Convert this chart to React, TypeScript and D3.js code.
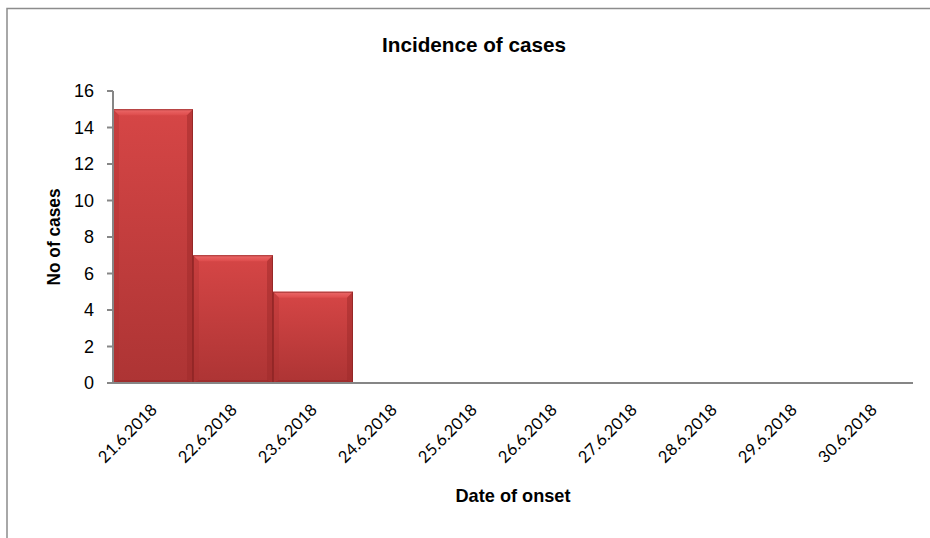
import React from "react";
import * as d3 from "d3";

const categories = ["21.6.2018", "22.6.2018", "23.6.2018", "24.6.2018", "25.6.2018", "26.6.2018", "27.6.2018", "28.6.2018", "29.6.2018", "30.6.2018"];
const cases = [15, 7, 5, 0, 0, 0, 0, 0, 0, 0];
const yTicks = [0, 2, 4, 6, 8, 10, 12, 14, 16];
const title = "Incidence of cases";
const yTitle = "No of cases";
const xTitle = "Date of onset";

const W = 930, H = 538;
const left = 113, right = 913, top = 91, bottom = 383;

export default function App() {
  const x = d3.scaleBand<string>().domain(categories).range([left, right]).padding(0);
  const y = d3.scaleLinear().domain([0, 16]).range([bottom, top]);
  const bev = 6;
  const sans = "'Liberation Sans', Arial, sans-serif";
  return (
    <svg width={W} height={H} style={{ position: "absolute", left: 0, top: 0, background: "#fff" }}>
      <defs>
        <linearGradient id="body" x1="0" y1="0" x2="0" y2="1">
          <stop offset="0" stopColor="#d64646" />
          <stop offset="1" stopColor="#ad3434" />
        </linearGradient>
        <linearGradient id="topb" x1="0" y1="0" x2="0" y2="1">
          <stop offset="0" stopColor="#ec6a6a" />
          <stop offset="1" stopColor="#de4c4c" />
        </linearGradient>
      </defs>
      <rect x={7} y={8.5} width={940} height={560} fill="none" stroke="#8c8c8c" strokeWidth={1.5} />
      <text x={474} y={52} textAnchor="middle" fontFamily={sans} fontWeight="bold" fontSize={21} textLength={184} lengthAdjust="spacingAndGlyphs" fill="#000">{title}</text>
      {cases.map((v, i) => {
        if (v <= 0) return null;
        const x0 = x(categories[i])!;
        const x1 = x0 + x.bandwidth();
        const y0 = y(v);
        const y1 = y(0);
        return (
          <g key={i}>
            <rect x={x0} y={y0} width={x1 - x0} height={y1 - y0} fill="url(#body)" />
            <polygon points={`${x0},${y0} ${x1},${y0} ${x1 - bev},${y0 + bev} ${x0 + bev},${y0 + bev}`} fill="url(#topb)" />
            <polygon points={`${x1},${y0} ${x1},${y1} ${x1 - bev},${y1 - 2} ${x1 - bev},${y0 + bev}`} fill="#9e2a2a" opacity={0.5} />
            <polygon points={`${x0},${y0} ${x0},${y1} ${x0 + bev},${y1 - 2} ${x0 + bev},${y0 + bev}`} fill="#a83030" opacity={0.3} />
            <polygon points={`${x0},${y1} ${x1},${y1} ${x1 - bev},${y1 - 3} ${x0 + bev},${y1 - 3}`} fill="#8e2525" opacity={0.45} />
            <rect x={x0 + 0.5} y={y0 + 0.5} width={x1 - x0 - 1} height={y1 - y0 - 1} fill="none" stroke="#8a2222" strokeWidth={1} opacity={0.7} />
          </g>
        );
      })}
      <line x1={left} y1={top} x2={left} y2={bottom} stroke="#868686" strokeWidth={2} />
      <line x1={left - 1} y1={bottom} x2={right} y2={bottom} stroke="#868686" strokeWidth={2} />
      {yTicks.map((t) => (
        <g key={t}>
          <line x1={left - 6} x2={left} y1={y(t)} y2={y(t)} stroke="#868686" strokeWidth={2} />
          <text x={left - 19} y={y(t)} dy="0.36em" textAnchor="end" fontFamily={sans} fontSize={18} fill="#000">{t}</text>
        </g>
      ))}
      {categories.map((c) => {
        const cx = x(c)! + x.bandwidth() / 2 + 5;
        const cy = bottom + 28;
        return (
          <text key={c} x={cx} y={cy} transform={`rotate(-45 ${cx} ${cy})`} textAnchor="end" fontFamily="Lato, 'Open Sans', sans-serif" fontSize={16.5} fill="#000">{c}</text>
        );
      })}
      <text x={513} y={502} textAnchor="middle" fontFamily={sans} fontWeight="bold" fontSize={19} textLength={115} lengthAdjust="spacingAndGlyphs" fill="#000">{xTitle}</text>
      <text transform={`translate(60 ${(top + bottom) / 2}) rotate(-90)`} textAnchor="middle" fontFamily={sans} fontWeight="bold" fontSize={19} textLength={97} lengthAdjust="spacingAndGlyphs" fill="#000">{yTitle}</text>
    </svg>
  );
}
